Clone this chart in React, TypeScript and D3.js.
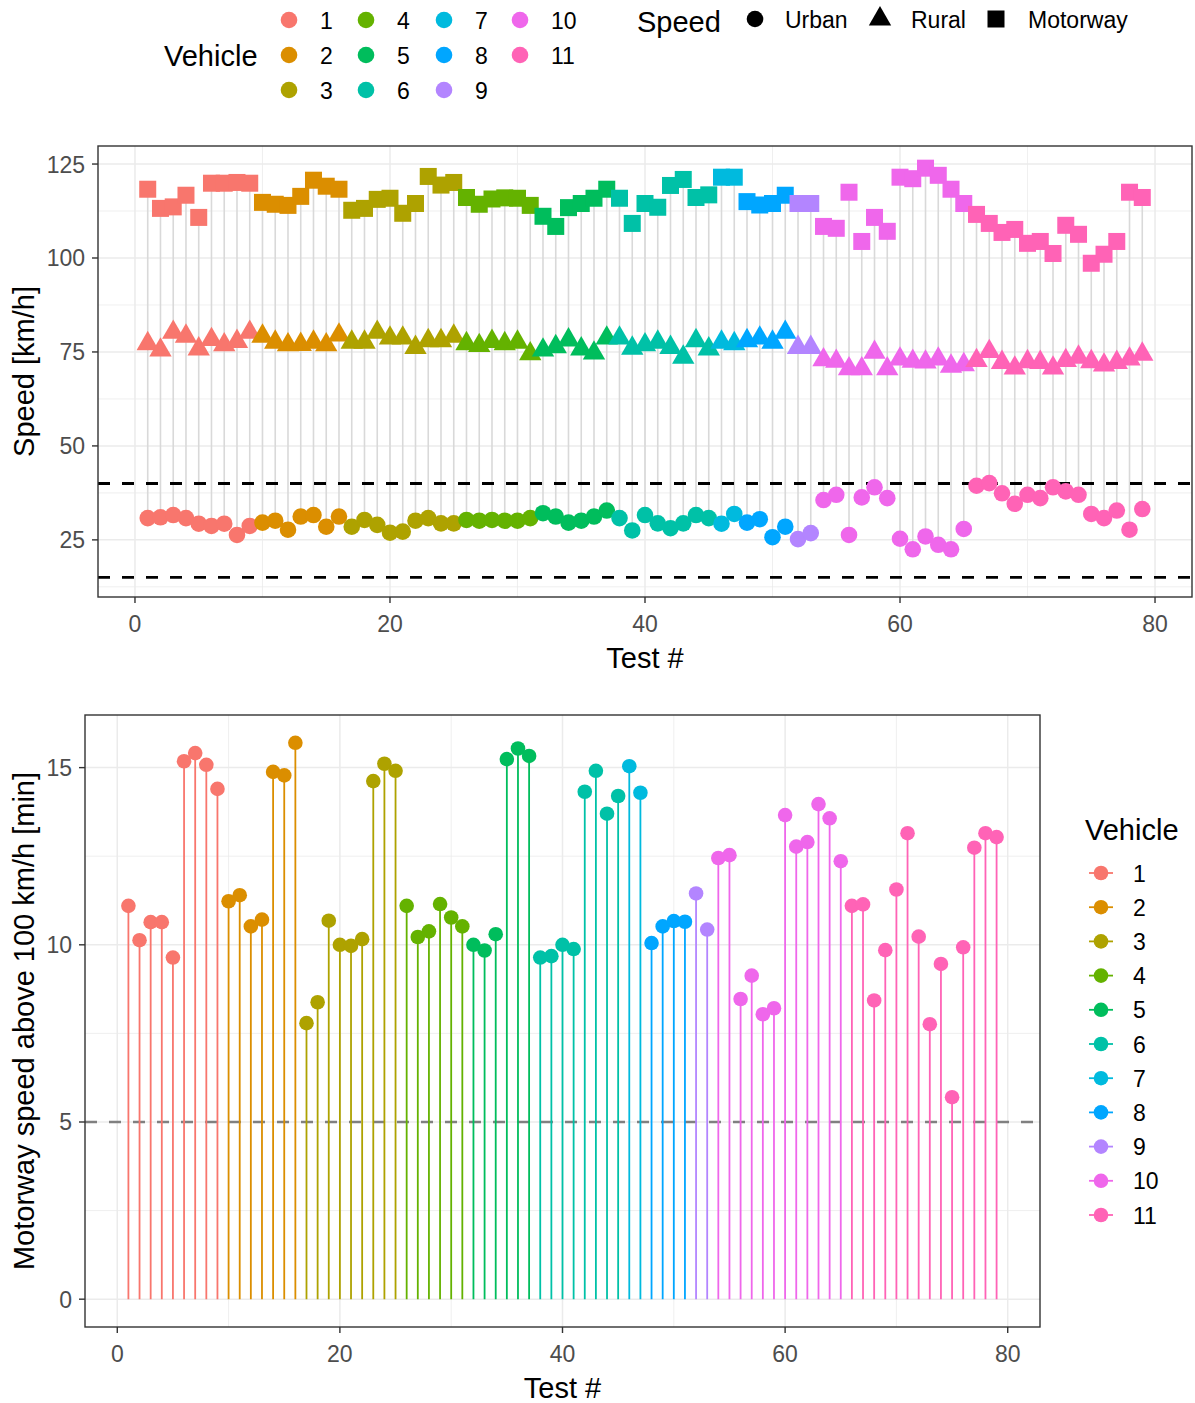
import React from "react";
import * as d3 from "d3";

const vehicleColors = ["#F8766D", "#DB8E00", "#AEA200", "#64B200", "#00BD5C", "#00C1A7", "#00BADE", "#00A6FF", "#B385FF", "#EF67EB", "#FF63B6"];
const vehicleNames = ["1", "2", "3", "4", "5", "6", "7", "8", "9", "10", "11"];

const vehicle = [
  1, 1, 1, 1, 1, 1, 1, 1, 1,
  2, 2, 2, 2, 2, 2, 2,
  3, 3, 3, 3, 3, 3, 3, 3, 3,
  4, 4, 4, 4, 4, 4,
  5, 5, 5, 5, 5, 5,
  6, 6, 6, 6, 6, 6, 6, 6,
  7, 7,
  8, 8, 8, 8,
  9, 9,
  10, 10, 10, 10, 10, 10, 10, 10, 10, 10, 10, 10,
  11, 11, 11, 11, 11, 11, 11, 11, 11, 11, 11, 11, 11, 11,
];

const urban = [
  30.8, 31.0, 31.6, 30.8, 29.3, 28.7, 29.3, 26.3, 28.7, 29.6,
  30.1, 27.7, 31.2, 31.6, 28.5, 31.2, 28.5, 30.3, 29.0, 26.9,
  27.2, 30.1, 30.8, 29.4, 29.4, 30.3, 30.1, 30.3, 30.1, 30.1,
  30.8, 32.1, 31.2, 29.6, 30.1, 31.2, 32.8, 30.8, 27.5, 31.6,
  29.4, 28.1, 29.4, 31.6, 30.8, 29.3, 31.9, 29.6, 30.5, 25.7,
  28.5, 25.2, 26.8, 35.6, 37.0, 26.3, 36.3, 39.0, 36.1, 25.3,
  22.5, 25.9, 23.7, 22.5, 27.9, 39.4, 40.1, 37.4, 34.6, 37.0,
  36.1, 39.0, 37.9, 37.0, 31.9, 30.8, 32.8, 27.7, 33.2,
];

const rural = [
  77.2, 75.5, 80.2, 79.2, 75.8, 78.3, 76.9, 77.8, 80.2, 79.2,
  77.6, 76.9, 77.0, 77.6, 76.9, 79.5, 77.6, 77.6, 80.2, 78.7,
  78.7, 76.2, 78.0, 78.0, 79.2, 77.2, 76.7, 77.8, 77.2, 77.6,
  74.5, 75.5, 76.4, 78.2, 75.8, 74.7, 78.7, 78.7, 76.0, 76.9,
  77.6, 76.2, 73.6, 78.0, 75.8, 77.6, 77.2, 78.0, 78.7, 77.6,
  80.2, 76.2, 76.2, 72.9, 72.5, 70.5, 70.5, 74.9, 70.5, 73.1,
  72.5, 72.3, 73.1, 71.2, 71.6, 72.7, 75.1, 72.2, 70.7, 72.4,
  72.2, 70.7, 72.7, 73.6, 72.4, 71.5, 72.2, 73.1, 74.4,
];

const motorway = [
  118.3, 113.2, 113.6, 116.7, 110.8, 119.9, 119.9, 120.1, 119.9, 114.8,
  114.3, 114.0, 116.4, 120.7, 119.1, 118.3, 112.7, 113.2, 115.6, 115.9,
  111.9, 114.5, 121.7, 119.4, 120.1, 116.1, 114.3, 115.7, 116.0, 115.9,
  114.0, 111.1, 108.4, 113.4, 114.5, 115.9, 118.3, 115.9, 109.2, 114.5,
  113.5, 119.3, 120.9, 116.1, 116.8, 121.5, 121.5, 115.0, 114.1, 114.5,
  116.7, 114.5, 114.5, 108.4, 107.9, 117.5, 104.4, 110.8, 107.1, 121.5,
  121.1, 123.9, 122.0, 118.3, 114.5, 111.6, 109.2, 106.8, 107.6, 103.9,
  104.4, 101.2, 108.7, 106.3, 98.6, 101.0, 104.4, 117.5, 116.1,
];

const above100 = [
  11.10, 10.13, 10.64, 10.64, 9.64, 15.18, 15.41, 15.08, 14.40, 11.23,
  11.40, 10.52, 10.71, 14.88, 14.78, 15.70, 7.79, 8.38, 10.68, 10.0,
  9.97, 10.16, 14.62, 15.11, 14.91, 11.10, 10.22, 10.38, 11.15, 10.77,
  10.52, 10.0, 9.84, 10.30, 15.24, 15.54, 15.33, 9.64, 9.68, 10.0,
  9.88, 14.32, 14.91, 13.70, 14.20, 15.04, 14.29, 10.05, 10.52, 10.67,
  10.65, 11.45, 10.43, 12.45, 12.53, 8.47, 9.13, 8.04, 8.21, 13.66,
  12.77, 12.90, 13.97, 13.57, 12.36, 11.10, 11.14, 8.43, 9.85, 11.56,
  13.15, 10.23, 7.76, 9.46, 5.70, 9.93, 12.74, 13.15, 13.04,
];

const xTicks = [0, 20, 40, 60, 80];
const xMinor = [10, 30, 50, 70];
const topYTicks = [25, 50, 75, 100, 125];
const topYMinor = [12.5, 37.5, 62.5, 87.5, 112.5];
const topRefLines = [40, 15];
const botYTicks = [0, 5, 10, 15];
const botYMinor = [2.5, 7.5, 12.5];
const botRefLine = 5;
const speedNames = ["Urban", "Rural", "Motorway"];

const FONT = "'Liberation Sans', Arial, Helvetica, sans-serif";
const GRID = "#EBEBEB";
const AXIS_TXT = "#4D4D4D";
const BORDER = "#333333";
const R = 8.3;
const SQ = 8.5;
const TICK_FS = 23;
const TITLE_FS = 29;

const tests = urban.map((_, i) => i + 1);

function Triangle({ x, y, fill }: { x: number; y: number; fill: string }) {
  const top = 1.555 * R, bot = 0.7776 * R, hw = 1.3468 * R;
  return <path d={`M${x},${y - top}L${x + hw},${y + bot}L${x - hw},${y + bot}Z`} fill={fill} />;
}
function Square({ x, y, fill }: { x: number; y: number; fill: string }) {
  return <rect x={x - SQ} y={y - SQ} width={2 * SQ} height={2 * SQ} fill={fill} />;
}

function Panel({ x0, x1, y0, y1, xs, ys, yTicks, yMinor, yTitle, titleX }: any) {
  return (
    <g>
      <rect x={x0} y={y0} width={x1 - x0} height={y1 - y0} fill="white" />
      {xMinor.map((t) => <line key={"xm" + t} x1={xs(t)} x2={xs(t)} y1={y0} y2={y1} stroke={GRID} strokeWidth={0.8} />)}
      {yMinor.map((t: number) => <line key={"ym" + t} x1={x0} x2={x1} y1={ys(t)} y2={ys(t)} stroke={GRID} strokeWidth={0.8} />)}
      {xTicks.map((t) => <line key={"xM" + t} x1={xs(t)} x2={xs(t)} y1={y0} y2={y1} stroke={GRID} strokeWidth={1.5} />)}
      {yTicks.map((t: number) => <line key={"yM" + t} x1={x0} x2={x1} y1={ys(t)} y2={ys(t)} stroke={GRID} strokeWidth={1.5} />)}
      {xTicks.map((t) => (
        <g key={"xt" + t}>
          <line x1={xs(t)} x2={xs(t)} y1={y1} y2={y1 + 6} stroke={BORDER} strokeWidth={1.4} />
          <text x={xs(t)} y={y1 + 35} textAnchor="middle" fontSize={TICK_FS} fill={AXIS_TXT} fontFamily={FONT}>{t}</text>
        </g>
      ))}
      {yTicks.map((t: number) => (
        <g key={"yt" + t}>
          <line x1={x0 - 6} x2={x0} y1={ys(t)} y2={ys(t)} stroke={BORDER} strokeWidth={1.4} />
          <text x={x0 - 13} y={ys(t) + 8.5} textAnchor="end" fontSize={TICK_FS} fill={AXIS_TXT} fontFamily={FONT}>{t}</text>
        </g>
      ))}
      <text x={(xs(0) + xs(80)) / 2} y={y1 + 71} textAnchor="middle" fontSize={TITLE_FS} fontFamily={FONT} fill="black">Test #</text>
      <text transform={`translate(${titleX},${(y0 + y1) / 2}) rotate(-90)`} textAnchor="middle" fontSize={TITLE_FS} fontFamily={FONT} fill="black">{yTitle}</text>
    </g>
  );
}

export default function App() {
  const W = 1195, H = 1403;
  const tX0 = 98, tX1 = 1192, tY0 = 146, tY1 = 597;
  const txs = d3.scaleLinear().domain([-2.9, 82.9]).range([tX0, tX1]);
  const tys = d3.scaleLinear().domain([9.8, 129.8]).range([tY1, tY0]);
  const bX0 = 85, bX1 = 1040, bY0 = 715, bY1 = 1327;
  const bxs = d3.scaleLinear().domain([-2.9, 82.9]).range([bX0, bX1]);
  const bys = d3.scaleLinear().domain([-0.785, 16.485]).range([bY1, bY0]);
  const col = (i: number) => vehicleColors[vehicle[i] - 1];

  const topLegendCols = [289, 366, 444, 520];
  const topLegendRows = [20, 55, 90];

  return (
    <div style={{ position: "absolute", left: 0, top: 0 }}>
      <svg width={W} height={H} viewBox={`0 0 ${W} ${H}`} style={{ display: "block", background: "white" }}>
        <rect x={0} y={0} width={W} height={H} fill="white" />
        {/* ===== Top legend ===== */}
        <text x={164} y={66} fontSize={TITLE_FS} fontFamily={FONT} fill="black">Vehicle</text>
        {vehicleNames.map((n, i) => {
          const c = Math.floor(i / 3), r = i % 3;
          const cx = topLegendCols[c], cy = topLegendRows[r];
          return (
            <g key={"tl" + n}>
              <circle cx={cx} cy={cy} r={R} fill={vehicleColors[i]} />
              <text x={cx + 31} y={cy + 8.5} fontSize={TICK_FS} fontFamily={FONT} fill="black">{n}</text>
            </g>
          );
        })}
        <text x={637} y={32} fontSize={TITLE_FS} fontFamily={FONT} fill="black">Speed</text>
        <circle cx={755} cy={19} r={R} fill="black" />
        <text x={785} y={28} fontSize={TICK_FS} fontFamily={FONT} fill="black">{speedNames[0]}</text>
        <Triangle x={880} y={19} fill="black" />
        <text x={911} y={28} fontSize={TICK_FS} fontFamily={FONT} fill="black">{speedNames[1]}</text>
        <Square x={996} y={19} fill="black" />
        <text x={1028} y={28} fontSize={TICK_FS} fontFamily={FONT} fill="black">{speedNames[2]}</text>

        {/* ===== Top panel ===== */}
        <Panel x0={tX0} x1={tX1} y0={tY0} y1={tY1} xs={txs} ys={tys} yTicks={topYTicks} yMinor={topYMinor} yTitle="Speed [km/h]" titleX={34} />
        {tests.map((t, i) => (
          <line key={"seg" + t} x1={txs(t)} x2={txs(t)} y1={tys(urban[i])} y2={tys(motorway[i])} stroke="#D9D9D9" strokeWidth={1.6} />
        ))}
        {topRefLines.map((v) => (
          <line key={"ref" + v} x1={tX0} x2={tX1} y1={tys(v)} y2={tys(v)} stroke="black" strokeWidth={2.8} strokeDasharray="12,12" />
        ))}
        {tests.map((t, i) => <circle key={"u" + t} cx={txs(t)} cy={tys(urban[i])} r={R} fill={col(i)} />)}
        {tests.map((t, i) => <Triangle key={"r" + t} x={txs(t)} y={tys(rural[i])} fill={col(i)} />)}
        {tests.map((t, i) => <Square key={"m" + t} x={txs(t)} y={tys(motorway[i])} fill={col(i)} />)}
        <rect x={tX0} y={tY0} width={tX1 - tX0} height={tY1 - tY0} fill="none" stroke={BORDER} strokeWidth={1.4} />

        {/* ===== Bottom panel ===== */}
        <Panel x0={bX0} x1={bX1} y0={bY0} y1={bY1} xs={bxs} ys={bys} yTicks={botYTicks} yMinor={botYMinor} yTitle="Motorway speed above 100 km/h [min]" titleX={34} />
        <line x1={bX0} x2={bX1} y1={bys(botRefLine)} y2={bys(botRefLine)} stroke="#808080" strokeWidth={2.6} strokeDasharray="12,12" />
        {tests.map((t, i) => (
          <line key={"st" + t} x1={bxs(t)} x2={bxs(t)} y1={bys(0)} y2={bys(above100[i])} stroke={col(i)} strokeWidth={1.8} />
        ))}
        {tests.map((t, i) => <circle key={"bp" + t} cx={bxs(t)} cy={bys(above100[i])} r={7.3} fill={col(i)} />)}
        <rect x={bX0} y={bY0} width={bX1 - bX0} height={bY1 - bY0} fill="none" stroke={BORDER} strokeWidth={1.4} />

        {/* ===== Bottom legend ===== */}
        <text x={1085} y={840} fontSize={TITLE_FS} fontFamily={FONT} fill="black">Vehicle</text>
        {vehicleNames.map((n, i) => {
          const cy = 873 + i * 34.2;
          return (
            <g key={"bl" + n}>
              <line x1={1089} x2={1113} y1={cy} y2={cy} stroke={vehicleColors[i]} strokeWidth={1.8} />
              <circle cx={1101} cy={cy} r={7.3} fill={vehicleColors[i]} />
              <text x={1133} y={cy + 8.5} fontSize={TICK_FS} fontFamily={FONT} fill="black">{n}</text>
            </g>
          );
        })}
      </svg>
    </div>
  );
}
